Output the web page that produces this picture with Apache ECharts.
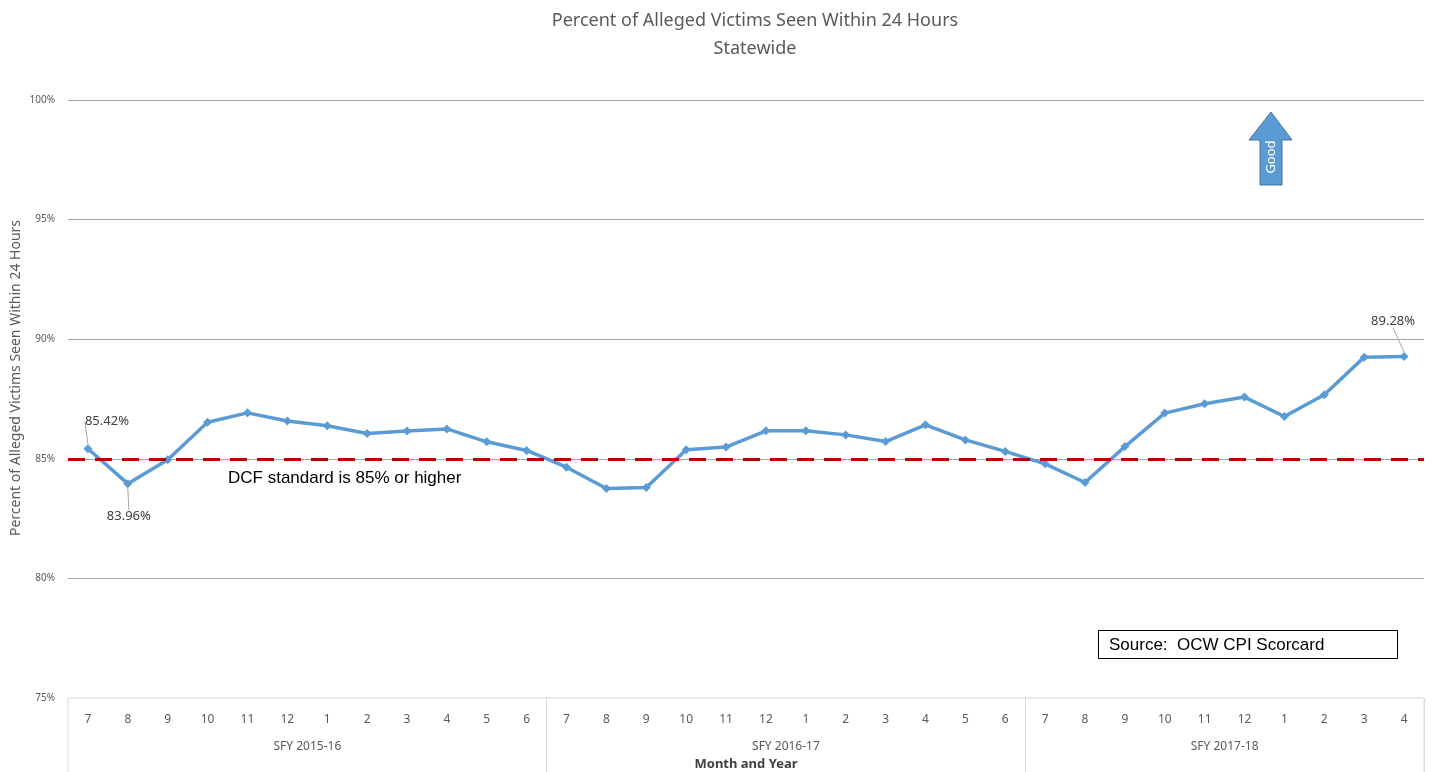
<!DOCTYPE html>
<html>
<head>
<meta charset="utf-8">
<script src="https://cdn.jsdelivr.net/npm/echarts@6/dist/echarts.min.js"></script>
<style>html,body{margin:0;padding:0;background:#fff;overflow:hidden;}#c{width:1434px;height:772px;}</style>
</head>
<body>
<div id="c"></div>
<script>
const months = ['7','8','9','10','11','12','1','2','3','4','5','6',
                '7','8','9','10','11','12','1','2','3','4','5','6',
                '7','8','9','10','11','12','1','2','3','4'];
const fiscalYears = ['SFY 2015-16','SFY 2016-17','SFY 2017-18'];
const fiscalYearMonths = [12, 12, 10];
const pctSeen = [85.42, 83.96, 84.96, 86.53, 86.92, 86.58, 86.38, 86.06, 86.16, 86.25, 85.71, 85.35,
                 84.65, 83.76, 83.80, 85.38, 85.49, 86.17, 86.17, 86.00, 85.72, 86.42, 85.79, 85.31,
                 84.79, 84.01, 85.51, 86.91, 87.30, 87.58, 86.77, 87.68, 89.25, 89.28];
const standard = 85;
const yTicks = [75, 80, 85, 90, 95, 100];
const labelledPoints = [0, 1, 33];

// group axis: name placed at the last month of the first half of each group
const groupAxis = new Array(months.length).fill('');
let start = 0;
fiscalYearMonths.forEach((n, i) => {
  groupAxis[start + Math.floor((n - 1) / 2)] = fiscalYears[i];
  start += n;
});
const groupBounds = [12, 24];

const chart = echarts.init(document.getElementById('c'));
const grey = '#595959';
const blue = '#5b9bd5';

chart.setOption({
  animation: false,
  title: {
    text: 'Percent of Alleged Victims Seen Within 24 Hours\nStatewide',
    left: 750, top: 2, textAlign: 'center',
    textStyle: {color: grey, fontSize: 18, fontWeight: 'normal', fontFamily: 'Noto Sans', lineHeight: 28}
  },
  grid: [
    {left: 68, right: 10, top: 100, height: 598, containLabel: false, outerBoundsMode: 'none'},
    {left: 68, right: 10, top: 698, height: 100, containLabel: false, outerBoundsMode: 'none',
     show: true, borderColor: '#d9d9d9', borderWidth: 1}
  ],
  xAxis: [
    {
      type: 'category', gridIndex: 0, data: months, boundaryGap: true,
      axisLine: {show: false}, axisTick: {show: false},
      axisLabel: {color: grey, fontSize: 12, fontFamily: 'Noto Sans', margin: 16, interval: 0},
      name: 'Month and Year', nameLocation: 'middle', nameGap: 60,
      nameTextStyle: {color: '#404040', fontSize: 13, fontWeight: 'bold', fontFamily: 'Noto Sans'}
    },
    {
      type: 'category', gridIndex: 1, data: groupAxis, boundaryGap: true, position: 'top',
      axisLine: {show: false}, axisTick: {show: false},
      axisLabel: {
        inside: true, margin: 43, interval: 0, color: grey, fontSize: 12, fontFamily: 'Noto Sans',
        formatter: v => v ? '{a|' + v + '}' : '',
        rich: {a: {padding: [0, 0, 0, 40], color: grey, fontSize: 12, fontFamily: 'Noto Sans'}}
      },
      splitLine: {show: true, interval: (i) => groupBounds.indexOf(i) >= 0, lineStyle: {color: '#d9d9d9', width: 1}}
    }
  ],
  yAxis: [
    {
      type: 'value', gridIndex: 0, min: yTicks[0], max: yTicks[yTicks.length - 1], interval: 5,
      axisLine: {show: false}, axisTick: {show: false},
      axisLabel: {formatter: '{value}%', color: grey, fontSize: 10, fontFamily: 'Noto Sans', margin: 13},
      splitLine: {show: true, showMinLine: false, lineStyle: {color: '#a6a6a6', width: 1}}
    },
    {type: 'value', gridIndex: 1, show: false}
  ],
  graphic: [
    {
      type: 'text', x: 16, y: 378, rotation: Math.PI / 2,
      style: {text: 'Percent of Alleged Victims Seen Within 24 Hours', fill: grey, fontSize: 14,
              fontFamily: 'Noto Sans', align: 'center', verticalAlign: 'middle'}
    },
    {
      type: 'polygon',
      shape: {points: [[1271, 112], [1292, 140], [1282, 140], [1282, 185], [1260, 185], [1260, 140], [1249, 140]]},
      style: {fill: blue, stroke: '#41719c', lineWidth: 1}
    },
    {
      type: 'text', x: 1271, y: 157, rotation: Math.PI / 2,
      style: {text: 'Good', fill: '#fff', fontSize: 13, fontFamily: 'Noto Sans', align: 'center', verticalAlign: 'middle'}
    },
    {
      type: 'rect', shape: {x: 1098.5, y: 630.5, width: 299, height: 28},
      style: {fill: '#fff', stroke: '#000', lineWidth: 1}
    },
    {
      type: 'text', x: 1109, y: 645,
      style: {text: 'Source:  OCW CPI Scorcard', fill: '#000', fontSize: 17, fontFamily: 'Liberation Sans', verticalAlign: 'middle'}
    }
  ],
  series: [{
    type: 'line', xAxisIndex: 0, yAxisIndex: 0,
    data: pctSeen.map((v, i) => labelledPoints.indexOf(i) >= 0
      ? {value: v, label: {show: true, position: i === 1 ? 'bottom' : 'top'}}
      : v),
    symbol: 'diamond', symbolSize: 9,
    lineStyle: {color: blue, width: 3.5},
    itemStyle: {color: blue},
    label: {show: false, formatter: p => p.value.toFixed(2) + '%', color: '#404040', fontSize: 13, fontFamily: 'Noto Sans'},
    labelLine: {show: true, lineStyle: {color: '#a6a6a6', width: 1}},
    labelLayout: p => {
      if (p.dataIndex === 0) return {dx: 19, dy: -11};
      if (p.dataIndex === 1) return {dx: 1, dy: 17};
      if (p.dataIndex === 33) return {dx: -11, dy: -19};
      return {};
    },
    markLine: {
      silent: true, symbol: 'none',
      data: [{yAxis: standard}],
      lineStyle: {color: '#c00000', type: [17, 10], width: 3},
      label: {
        show: true, position: 'insideStartBottom', distance: [160, 11],
        formatter: 'DCF standard is 85% or higher',
        color: '#000', fontSize: 17, fontFamily: 'Liberation Sans'
      }
    }
  }]
});
</script>
</body>
</html>
